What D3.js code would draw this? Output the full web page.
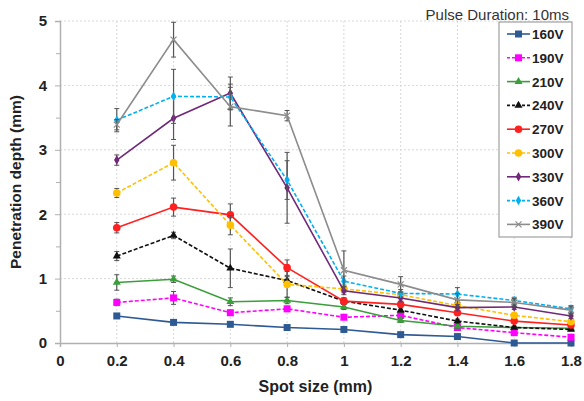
<!DOCTYPE html>
<html lang="en">
<head>
<meta charset="utf-8">
<title>Penetration depth vs spot size</title>
<script src="https://d3js.org/d3.v7.min.js"></script>
<style>
  body { margin: 0; background: #fff; }
  text { font-family: "Liberation Sans", Arial, sans-serif; }
</style>
</head>
<body>
<div id="chart"></div>
<script>
// spot sizes (mm)
const spotSizes = [0.2, 0.4, 0.6, 0.8, 1.0, 1.2, 1.4, 1.6, 1.8];
const xTicks = [0, 0.2, 0.4, 0.6, 0.8, 1, 1.2, 1.4, 1.6, 1.8];
const yTicks = [0, 1, 2, 3, 4, 5];

// penetration depth (mm) per voltage
const v160 = [0.42, 0.32, 0.29, 0.24, 0.21, 0.13, 0.10, 0.00, 0.00];
const v190 = [0.63, 0.70, 0.47, 0.53, 0.40, 0.43, 0.24, 0.16, 0.09];
const v210 = [0.94, 0.99, 0.64, 0.66, 0.56, 0.35, 0.26, 0.24, 0.23];
const v240 = [1.35, 1.67, 1.16, 0.97, 0.65, 0.51, 0.34, 0.24, 0.21];
const v270 = [1.79, 2.11, 1.99, 1.17, 0.65, 0.60, 0.47, 0.34, 0.28];
const v300 = [2.33, 2.80, 1.83, 0.91, 0.84, 0.75, 0.58, 0.43, 0.33];
const v330 = [2.84, 3.49, 3.88, 2.41, 0.81, 0.70, 0.55, 0.56, 0.42];
const v360 = [3.46, 3.83, 3.82, 2.53, 0.96, 0.77, 0.76, 0.66, 0.53];
const v390 = [3.39, 4.71, 3.67, 3.53, 1.13, 0.91, 0.67, 0.63, 0.51];

// error (+/- mm)
const e160 = [0.03, 0.03, 0.02, 0.02, 0.02, 0.02, 0.02, 0.00, 0.00];
const e190 = [0.05, 0.10, 0.04, 0.04, 0.03, 0.04, 0.03, 0.02, 0.02];
const e210 = [0.12, 0.05, 0.06, 0.05, 0.04, 0.03, 0.03, 0.02, 0.02];
const e240 = [0.07, 0.05, 0.30, 0.06, 0.05, 0.04, 0.03, 0.02, 0.02];
const e270 = [0.08, 0.14, 0.17, 0.12, 0.05, 0.05, 0.04, 0.03, 0.03];
const e300 = [0.07, 0.27, 0.15, 0.20, 0.06, 0.05, 0.04, 0.03, 0.03];
const e330 = [0.08, 0.33, 0.25, 0.55, 0.06, 0.06, 0.05, 0.04, 0.04];
const e360 = [0.18, 0.42, 0.20, 0.30, 0.08, 0.06, 0.10, 0.05, 0.05];
const e390 = [0.08, 0.27, 0.30, 0.08, 0.30, 0.12, 0.10, 0.06, 0.06];

const labels = ["160V", "190V", "210V", "240V", "270V", "300V", "330V", "360V", "390V"];
const values = [v160, v190, v210, v240, v270, v300, v330, v360, v390];
const errors = [e160, e190, e210, e240, e270, e300, e330, e360, e390];
const colors = ["#2e5a94", "#ff00ff", "#3a9e3a", "#111111", "#ff2020", "#ffc000", "#702878", "#00b0f0", "#8c8c8c"];
const dashed = [false, true, false, true, false, true, false, true, false];
const markers = ["square", "square", "triangle", "triangle", "circle", "circle", "diamond", "diamond", "cross"];

const W = 584, H = 401;
const margin = {top: 21, right: 12, bottom: 58, left: 60};

const svg = d3.select("#chart").append("svg")
    .attr("width", W).attr("height", H);

const x = d3.scaleLinear().domain([0, 1.8]).range([margin.left, W - margin.right - 1]);
const y = d3.scaleLinear().domain([0, 5]).range([H - margin.bottom, margin.top]);

// grid
const grid = svg.append("g");
grid.selectAll(".vg").data(xTicks.slice(1)).join("line")
    .attr("x1", d => x(d)).attr("x2", d => x(d))
    .attr("y1", y(0)).attr("y2", y(5))
    .attr("stroke", "#d8d8d8").attr("stroke-dasharray", "2,2");
grid.selectAll(".hg").data(yTicks.slice(1)).join("line")
    .attr("x1", x(0)).attr("x2", x(1.8))
    .attr("y1", d => y(d)).attr("y2", d => y(d))
    .attr("stroke", "#d8d8d8").attr("stroke-dasharray", "2,2");

// axes
const xAxis = svg.append("g")
    .attr("transform", `translate(0,${y(0)})`)
    .call(d3.axisBottom(x).tickValues(xTicks).tickFormat(d3.format("~g")).tickSize(4).tickPadding(8));
const yAxis = svg.append("g")
    .attr("transform", `translate(${x(0)},0)`)
    .call(d3.axisLeft(y).tickValues(yTicks).tickFormat(d3.format("d")).tickSize(5).tickPadding(8));
svg.append("g")
    .attr("transform", `translate(${x(0)},0)`)
    .call(d3.axisLeft(y).tickValues([0.5, 1.5, 2.5, 3.5, 4.5]).tickSize(4).tickFormat(""))
    .select(".domain").remove();

[xAxis, yAxis].forEach(a => {
    a.select(".domain").attr("stroke", "#b0b0b0").attr("stroke-width", 1.5);
    a.selectAll("text").attr("font-size", 15).attr("font-weight", "bold").attr("fill", "#222");
});
svg.selectAll(".tick line").attr("stroke", "#b0b0b0");

// axis titles
svg.append("text")
    .attr("x", (x(0) + x(1.8)) / 2).attr("y", 392)
    .attr("text-anchor", "middle")
    .attr("font-size", 16).attr("font-weight", "bold").attr("fill", "#222")
    .text("Spot size (mm)");
svg.append("text")
    .attr("transform", `translate(21,${(y(0) + y(5)) / 2}) rotate(-90)`)
    .attr("text-anchor", "middle")
    .attr("font-size", 15.5).attr("font-weight", "bold").attr("fill", "#222")
    .text("Penetration depth (mm)");

svg.append("text")
    .attr("x", 569).attr("y", 20)
    .attr("text-anchor", "end")
    .attr("font-size", 15).attr("fill", "#333")
    .text("Pulse Duration: 10ms");

function drawMarker(g, type, cx, cy, color) {
    if (type === "square") {
        g.append("rect").attr("x", cx - 3.5).attr("y", cy - 3.5).attr("width", 7).attr("height", 7)
            .attr("fill", color);
    } else if (type === "triangle") {
        g.append("path").attr("d", d3.symbol(d3.symbolTriangle, 28)()).attr("transform", `translate(${cx},${cy})`)
            .attr("fill", color);
    } else if (type === "circle") {
        g.append("circle").attr("cx", cx).attr("cy", cy).attr("r", 3.8).attr("fill", color);
    } else if (type === "diamond") {
        g.append("path").attr("d", d3.symbol(d3.symbolDiamond, 26)()).attr("transform", `translate(${cx},${cy})`)
            .attr("fill", color);
    } else {
        g.append("path").attr("d", `M${cx - 3},${cy - 3}L${cx + 3},${cy + 3}M${cx - 3},${cy + 3}L${cx + 3},${cy - 3}`)
            .attr("stroke", color).attr("stroke-width", 1.2);
    }
}

const line = d3.line().x(d => x(d[0])).y(d => y(d[1]));

values.forEach((vals, i) => {
    const g = svg.append("g");
    const pts = spotSizes.map((s, j) => [s, vals[j], errors[i][j]]);
    // error bars
    pts.forEach(p => {
        if (p[2] <= 0) return;
        const top = y(p[1] + p[2]), bot = y(Math.max(0, p[1] - p[2]));
        g.append("line").attr("x1", x(p[0])).attr("x2", x(p[0])).attr("y1", top).attr("y2", bot)
            .attr("stroke", "#555").attr("stroke-width", 1.2);
        [top, bot].forEach(yy => g.append("line")
            .attr("x1", x(p[0]) - 2.5).attr("x2", x(p[0]) + 2.5).attr("y1", yy).attr("y2", yy)
            .attr("stroke", "#555").attr("stroke-width", 1));
    });
    g.append("path").datum(pts).attr("d", line)
        .attr("fill", "none").attr("stroke", colors[i]).attr("stroke-width", 1.6)
        .attr("stroke-dasharray", dashed[i] ? "4,2" : null);
    pts.forEach(p => drawMarker(g, markers[i], x(p[0]), y(p[1]), colors[i]));
});

// legend
const lg = svg.append("g");
lg.append("rect").attr("x", 499).attr("y", 22).attr("width", 73).attr("height", 215)
    .attr("fill", "#fff").attr("stroke", "#a0a0a0").attr("stroke-width", 1.2);
labels.forEach((lab, i) => {
    const yy = 34 + i * 23.8;
    lg.append("line").attr("x1", 507).attr("x2", 530).attr("y1", yy).attr("y2", yy)
        .attr("stroke", colors[i]).attr("stroke-width", 1.6)
        .attr("stroke-dasharray", dashed[i] ? "3,2" : null);
    drawMarker(lg, markers[i], 518.5, yy, colors[i]);
    lg.append("text").attr("x", 532).attr("y", yy + 5)
        .attr("font-size", 13.5).attr("font-weight", "bold").attr("fill", "#222")
        .text(lab);
});
</script>
</body>
</html>
